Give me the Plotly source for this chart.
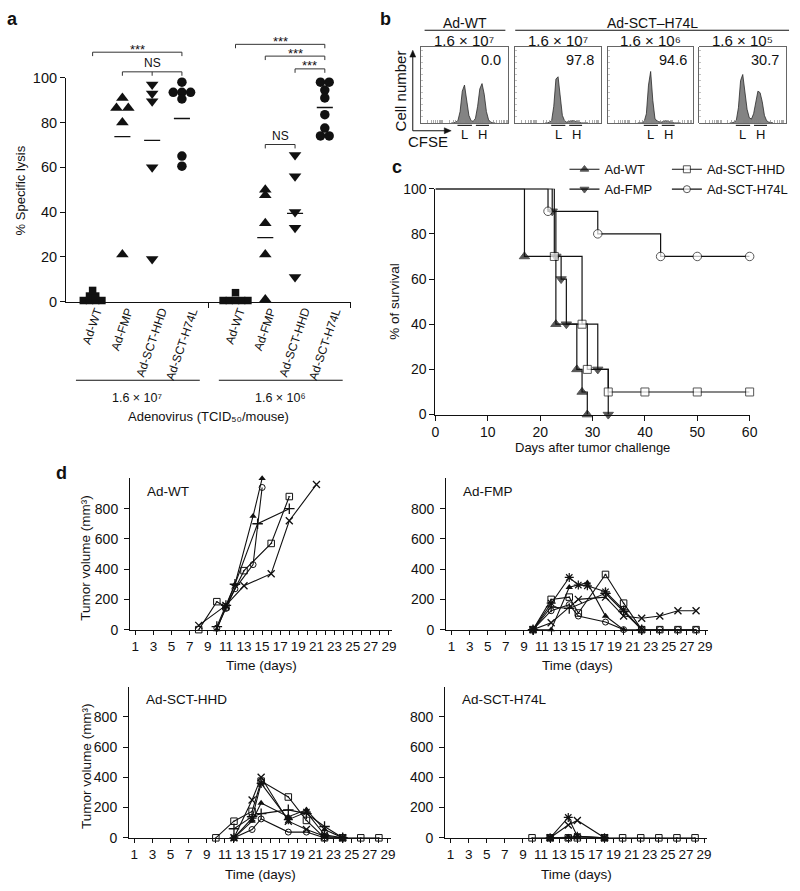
import math
import plotly.graph_objects as go

W, H = 800, 891
FONT = "Liberation Sans, Arial, Helvetica, sans-serif"
INK = "#111111"

# ======================= DATA =======================
# ---- Panel a : % specific lysis ----
virus_names = ["Ad-WT", "Ad-FMP", "Ad-SCT-HHD", "Ad-SCT-H74L"]
dose_labels_a = ["1.6 × 10⁷", "1.6 × 10⁶"]
lysis_ticks = [0, 20, 40, 60, 80, 100]
lysis_hi_wt = [0.5, 0.5, 0.5, 0.5, 2.5, 2.5, 5.0]
lysis_hi_fmp = [91.0, 86.5, 86.5, 80.0, 21.0]
lysis_hi_hhd = [97.0, 93.0, 89.5, 60.0, 19.0]
lysis_hi_h74l = [98.0, 93.5, 93.5, 93.5, 90.5, 65.0, 60.5]
lysis_lo_wt = [0.5, 0.5, 0.5, 0.5, 0.5, 4.0]
lysis_lo_fmp = [50.0, 47.5, 35.0, 21.0, 1.0]
lysis_lo_hhd = [65.5, 56.0, 40.0, 33.0, 11.0]
lysis_lo_h74l = [98.0, 98.0, 94.5, 91.0, 83.5, 77.5, 74.0, 74.0]
lysis_hi_means = [None, 73.7, 72.0, 81.8]
lysis_lo_means = [None, 28.6, 39.4, 86.7]
sig_hi = [("***", [0, 3]), ("NS", [1, 2, 3])]
sig_lo = [("***", [0, 3]), ("***", [1, 3]), ("***", [2, 3]), ("NS", [1, 2])]

# ---- Panel b : CFSE histograms ----
flow_headers = ["Ad-WT", "Ad-SCT–H74L"]
flow_doses = ["1.6 × 10⁷", "1.6 × 10⁷", "1.6 × 10⁶", "1.6 × 10⁵"]
flow_lysis = ["0.0", "97.8", "94.6", "30.7"]
cfse_channel = [35, 37.5, 40, 42.5, 45, 47.5, 50, 52.5, 55, 57.5, 60,
                62.5, 65, 67.5, 70, 72.5, 75, 77.5, 80, 82.5, 85]
hist_wt_e7 = [0, 0, 1, 3, 15, 42, 50, 30, 10, 3, 2, 6, 22, 45, 52, 38, 15, 4, 1, 0, 0]
hist_h74l_e7 = [0, 0, 1, 3, 22, 58, 61, 35, 10, 3, 1, 2, 3, 3, 2, 1, 1, 0, 0, 0, 0]
hist_h74l_e6 = [0, 0, 0, 2, 12, 50, 68, 30, 6, 2, 1, 1, 2, 3, 2, 1, 0, 0, 0, 0, 0]
hist_h74l_e5 = [0, 0, 1, 3, 20, 56, 64, 40, 18, 7, 5, 12, 30, 42, 40, 28, 10, 3, 1, 0, 0]

# ---- Panel c : survival ----
km_names = ["Ad-WT", "Ad-FMP", "Ad-SCT-HHD", "Ad-SCT-H74L"]
km_wt_t = [0, 17, 23, 27, 28, 29]
km_wt_s = [100, 70, 40, 20, 10, 0]
km_fmp_t = [0, 22.3, 23, 24, 25, 31, 33]
km_fmp_s = [100, 90, 70, 60, 40, 20, 0]
km_hhd_t = [0, 22.7, 28, 29, 33, 40, 50, 60]
km_hhd_s = [100, 70, 40, 20, 10, 10, 10, 10]
km_h74l_t = [0, 21.5, 31, 43, 50, 60]
km_h74l_s = [100, 90, 80, 70, 70, 70]
km_xticks = [0, 10, 20, 30, 40, 50, 60]
km_yticks = [0, 20, 40, 60, 80, 100]

# ---- Panel d : tumour volume ----
tumor_titles = ["Ad-WT", "Ad-FMP", "Ad-SCT-HHD", "Ad-SCT-H74L"]
vol_ticks = [0, 200, 400, 600, 800]
day_labels = [1, 3, 5, 7, 9, 11, 13, 15, 17, 19, 21, 23, 25, 27, 29]
day_minor = [10, 12, 14, 16, 18, 20, 22, 24, 26, 28]

wt_tri_d = [10, 11, 12, 14, 15];          wt_tri_v = [0, 150, 300, 750, 1000]
wt_cir_d = [10, 11, 12, 14, 15];          wt_cir_v = [10, 140, 270, 430, 940]
wt_sq_d = [8, 10, 11, 13, 16, 18];        wt_sq_v = [0, 185, 150, 390, 570, 880]
wt_x_d = [8, 11, 13, 16, 18, 21];         wt_x_v = [28, 160, 290, 370, 720, 960]
wt_plus_d = [10, 11, 12, 14.5, 18];       wt_plus_v = [20, 160, 300, 700, 800]

fmp_tri_d = [10, 12, 14, 16, 18, 20];     fmp_tri_v = [0, 0, 280, 310, 90, 0]
fmp_cir_d = [10, 12, 14, 15, 18, 20, 22, 24, 26, 28]
fmp_cir_v = [0, 125, 165, 90, 50, 0, 0, 0, 0, 0]
fmp_sq_d = [10, 12, 14, 15, 18, 20, 22, 24, 26, 28]
fmp_sq_v = [0, 200, 215, 110, 365, 175, 0, 0, 0, 0]
fmp_x_d = [10, 12, 15, 18, 20, 22, 24, 26, 28]
fmp_x_v = [0, 45, 200, 215, 90, 75, 90, 125, 125]
fmp_star_d = [10, 12, 14, 15, 16, 18, 20, 22]
fmp_star_v = [0, 175, 345, 295, 290, 250, 130, 0]
fmp_plus_d = [10, 12, 14, 18, 20, 22]
fmp_plus_v = [0, 150, 140, 240, 120, 0]

hhd_sq_d = [10, 12, 14, 15, 18, 20, 22, 24, 26, 28]
hhd_sq_v = [0, 110, 175, 375, 270, 115, 0, 0, 0, 0]
hhd_x_d = [12, 14, 15, 18, 20, 22, 24];   hhd_x_v = [0, 250, 400, 110, 55, 10, 0]
hhd_cir_d = [12, 14, 15, 18, 20, 22, 24]; hhd_cir_v = [0, 55, 125, 38, 38, 0, 0]
hhd_tri_d = [12, 14, 15, 18, 20, 22, 24]; hhd_tri_v = [0, 110, 230, 140, 185, 55, 0]
hhd_plus_d = [12, 14, 15, 18, 20, 22, 24]; hhd_plus_v = [60, 140, 160, 185, 160, 75, 0]
hhd_star_d = [12, 14, 15, 18, 20, 22, 24]; hhd_star_v = [0, 130, 360, 120, 170, 20, 0]

h74l_sq_d = [10, 12, 14, 15, 18, 20, 22, 24, 26, 28]
h74l_sq_v = [0, 0, 0, 0, 0, 0, 0, 0, 0, 0]
h74l_star_d = [12, 14, 15, 18];           h74l_star_v = [0, 135, 10, 0]
h74l_x_d = [12, 14, 15, 18];              h74l_x_v = [0, 85, 115, 0]
h74l_tri_d = [12, 14, 15, 18];            h74l_tri_v = [0, 5, 5, 0]
h74l_cir_d = [12, 14, 15, 18];            h74l_cir_v = [0, 0, 10, 0]

# ======================= HELPERS =======================
fig = go.Figure()
anns, shapes, axes = [], [], {}


def fx(px):
    return px / W


def fy(py):
    return 1 - py / H


def xdom(a, b):
    return [a / W, b / W]


def ydom(top, bottom):
    return [1 - bottom / H, 1 - top / H]


def text(x, y, s, size=13, bold=False, **kw):
    a = dict(xref="paper", yref="paper", x=fx(x), y=fy(y), text=("<b>%s</b>" % s if bold else s),
             showarrow=False, xanchor="center", yanchor="middle",
             font=dict(size=size, color=INK, family=FONT))
    a.update(kw)
    anns.append(a)


def seg(x0, y0, x1, y1, width=1.0, color=INK):
    shapes.append(dict(type="line", xref="paper", yref="paper", x0=fx(x0), y0=fy(y0),
                       x1=fx(x1), y1=fy(y1), line=dict(color=color, width=width)))


def tri(pts):
    p = "M" + " L".join("%.5f,%.5f" % (fx(a), fy(b)) for a, b in pts) + " Z"
    shapes.append(dict(type="path", xref="paper", yref="paper", path=p,
                       fillcolor=INK, line=dict(color=INK, width=0.5)))


def base_axis(**kw):
    d = dict(showgrid=False, zeroline=False, fixedrange=True, showline=True,
             linecolor=INK, linewidth=1.1, tickcolor=INK,
             tickfont=dict(size=14, color=INK, family=FONT))
    d.update(kw)
    return d


# ======================= PANEL a =======================
A_X = (63, 352)
A_R = (0.108, 9.67)
A_Y = (71, 299)
A_UNIT = (A_X[1] - A_X[0]) / (A_R[1] - A_R[0])
group_start = [1.0, 5.8]


def a_px(u):
    return A_X[0] + (u - A_R[0]) * A_UNIT


def swarm(vals, center, step_px):
    counts, seen, xs = {}, {}, []
    for v in vals:
        counts[v] = counts.get(v, 0) + 1
    for v in vals:
        n = counts[v]
        i = seen.get(v, 0)
        seen[v] = i + 1
        xs.append(center + (i - (n - 1) / 2.0) * step_px / A_UNIT)
    return xs


a_symbols = ["square", "triangle-up", "triangle-down", "circle"]
a_sizes = [7.5, 11, 11, 9.5]
a_steps = [6.3, 12, 12, 8.8]
groups = [([lysis_hi_wt, lysis_hi_fmp, lysis_hi_hhd, lysis_hi_h74l], lysis_hi_means),
          ([lysis_lo_wt, lysis_lo_fmp, lysis_lo_hhd, lysis_lo_h74l], lysis_lo_means)]
for g, (series, means) in enumerate(groups):
    for i, vals in enumerate(series):
        cx = group_start[g] + i
        fig.add_trace(go.Scatter(
            x=swarm(vals, cx, a_steps[i]), y=vals, mode="markers", xaxis="x", yaxis="y",
            marker=dict(symbol=a_symbols[i], size=a_sizes[i], color=INK, line=dict(width=0)),
            cliponaxis=False, showlegend=False, hoverinfo="skip"))
        if means[i] is not None:
            fig.add_trace(go.Scatter(
                x=[cx - 0.27, cx + 0.27], y=[means[i], means[i]], mode="lines",
                xaxis="x", yaxis="y", line=dict(color=INK, width=1.4),
                cliponaxis=False, showlegend=False, hoverinfo="skip"))

axes["xaxis"] = base_axis(domain=xdom(*A_X), range=list(A_R), anchor="y", ticks="outside",
                          ticklen=5, tickvals=[4.9, 9.66], showticklabels=False)
axes["yaxis"] = base_axis(domain=ydom(*A_Y), range=[0, 100], anchor="x", ticks="outside",
                          ticklen=5, tickvals=lysis_ticks, tickfont=dict(size=14.5, color=INK, family=FONT))

# significance brackets
bracket_levels = [[45, 65], [37, 49, 62, 139]]
for g, sigs in enumerate([sig_hi, sig_lo]):
    for (label, cats), ypx in zip(sigs, bracket_levels[g]):
        xs = [a_px(group_start[g] + c) for c in cats]
        seg(xs[0], ypx, xs[-1], ypx, width=1, color="#333")
        for xx in xs:
            seg(xx, ypx, xx, ypx + 4, width=1, color="#333")
        mid = (xs[0] + xs[-1]) / 2
        if label == "NS":
            text(mid, ypx - 9, label, size=12)
        else:
            text(mid, ypx - 3, label, size=13)

# category labels, group lines, dose labels
for g in range(2):
    for i, name in enumerate(virus_names):
        anns.append(dict(xref="paper", yref="paper", x=fx(a_px(group_start[g] + i)), y=fy(301),
                         text=name, textangle=-71, showarrow=False, xanchor="center", yanchor="top",
                         font=dict(size=12, color=INK, family=FONT)))
    gx0 = a_px(group_start[g] - 0.56)
    gx1 = a_px(group_start[g] + 3.6)
    seg(gx0, 379, gx1, 379, width=1.1)
    text((gx0 + gx1) / 2, 397, dose_labels_a[g], size=12.5)
text(208, 416, "Adenovirus (TCID₅₀/mouse)", size=13)
text(17, 186, "% Specific lysis", size=13, textangle=-90)

# ======================= PANEL b =======================
B_BOXES = [(423, 512), (519, 606), (613, 700), (706, 794)]
B_Y = (40, 117)
hists = [hist_wt_e7, hist_h74l_e7, hist_h74l_e6, hist_h74l_e5]
log_ticks = [25 * (d + math.log10(k)) for d in range(4) for k in range(1, 10)]
for k, (bx0, bx1) in enumerate(B_BOXES):
    n = k + 2
    xa, ya = "x%d" % n, "y%d" % n
    fig.add_trace(go.Scatter(x=cfse_channel, y=hists[k], mode="lines", fill="tozeroy",
                             fillcolor="#838383", line=dict(color="#2a2a2a", width=0.8),
                             xaxis=xa, yaxis=ya, showlegend=False, hoverinfo="skip"))
    axes["xaxis%d" % n] = base_axis(domain=xdom(bx0, bx1), range=[0, 100], anchor=ya, mirror=True,
                                    linecolor="#555", linewidth=0.9, ticks="inside", ticklen=2.5,
                                    tickcolor="#888", tickwidth=0.7, tickvals=log_ticks,
                                    showticklabels=False)
    axes["yaxis%d" % n] = base_axis(domain=ydom(*B_Y), range=[0, 100], anchor=xa, mirror=True,
                                    linecolor="#555", linewidth=0.9, ticks="inside", ticklen=2,
                                    tickcolor="#999", tickwidth=0.6, dtick=8, showticklabels=False)
    w = bx1 - bx0
    text((bx0 + bx1) / 2, 33, flow_doses[k], size=15)
    text(bx1 - 5, 53, flow_lysis[k], size=14.5, xanchor="right")
    seg(bx0 + 0.42 * w, 119.5, bx0 + 0.585 * w, 119.5, width=1.1)
    seg(bx0 + 0.63 * w, 119.5, bx0 + 0.78 * w, 119.5, width=1.1)
    text(bx0 + 0.50 * w, 129, "L", size=13)
    text(bx0 + 0.71 * w, 129, "H", size=13)

text(468, 15, flow_headers[0], size=14)
seg(427, 22.7, 509, 22.7, width=1.1)
text(658, 15, flow_headers[1], size=14)
seg(519, 22.7, 797, 22.7, width=1.1)
text(403, 84, "Cell number", size=15, textangle=-90)
text(430, 136, "CFSE", size=15)
# CFSE / cell-number arrows
seg(415, 125, 415, 49, width=1)
tri([(412, 50), (418, 50), (415, 43)])
seg(415, 125, 448, 125, width=1)
tri([(447, 122), (447, 128), (454, 125)])

# ======================= PANEL c =======================
km_series = [(km_wt_t, km_wt_s, "triangle-up", INK, 9, "legend"),
             (km_fmp_t, km_fmp_s, "triangle-down", INK, 9, "legend"),
             (km_hhd_t, km_hhd_s, "square", "white", 8, "legend2"),
             (km_h74l_t, km_h74l_s, "circle", "white", 8.5, "legend2")]
for name, (t, s, sym, col, sz, lg) in zip(km_names, km_series):
    fig.add_trace(go.Scatter(
        x=t, y=s, mode="lines+markers", line=dict(shape="hv", color=INK, width=1.2),
        marker=dict(symbol=sym, color=col, size=[0] + [sz] * (len(t) - 1),
                    line=dict(color=INK, width=1)),
        name=name, legend=lg, xaxis="x6", yaxis="y6", cliponaxis=False, hoverinfo="skip"))
axes["xaxis6"] = base_axis(domain=xdom(438, 757), range=[0, 60], anchor="y6", ticks="outside",
                           ticklen=5, tickvals=km_xticks)
axes["yaxis6"] = base_axis(domain=ydom(184, 414), range=[0, 100], anchor="x6", ticks="outside",
                           ticklen=5, tickvals=km_yticks)
text(597, 448, "Days after tumor challenge", size=13)
text(397, 299, "% of survival", size=13.5, textangle=-90)

legend_common = dict(xanchor="left", yanchor="top", bgcolor="rgba(0,0,0,0)", itemwidth=30,
                     tracegroupgap=0, font=dict(size=13, color=INK, family=FONT),
                     itemclick=False, itemdoubleclick=False)

# ======================= PANEL d =======================
D_PANELS = [((128, 394), (479, 633)), ((449, 715), (479, 633)),
            ((127, 393), (691, 845)), ((448, 714), (691, 845))]
mouse_style = {
    "tri": dict(symbol="triangle-up", size=6.5, color=INK, line=dict(width=0)),
    "cir": dict(symbol="circle-open", size=6, color=INK, line=dict(width=1)),
    "sq": dict(symbol="square-open-dot", size=6.5, color=INK, line=dict(width=1)),
    "x": dict(symbol="x-thin-open", size=7, color=INK, line=dict(width=1.3)),
    "plus": dict(symbol="cross-thin-open", size=7.5, color=INK, line=dict(width=1.3)),
    "star": dict(symbol="asterisk-open", size=7.5, color=INK, line=dict(width=1.2)),
}
tumor_series = [
    [("tri", wt_tri_d, wt_tri_v), ("cir", wt_cir_d, wt_cir_v), ("sq", wt_sq_d, wt_sq_v),
     ("x", wt_x_d, wt_x_v), ("plus", wt_plus_d, wt_plus_v)],
    [("tri", fmp_tri_d, fmp_tri_v), ("cir", fmp_cir_d, fmp_cir_v), ("sq", fmp_sq_d, fmp_sq_v),
     ("x", fmp_x_d, fmp_x_v), ("star", fmp_star_d, fmp_star_v), ("plus", fmp_plus_d, fmp_plus_v)],
    [("tri", hhd_tri_d, hhd_tri_v), ("cir", hhd_cir_d, hhd_cir_v), ("sq", hhd_sq_d, hhd_sq_v),
     ("x", hhd_x_d, hhd_x_v), ("plus", hhd_plus_d, hhd_plus_v), ("star", hhd_star_d, hhd_star_v)],
    [("tri", h74l_tri_d, h74l_tri_v), ("cir", h74l_cir_d, h74l_cir_v), ("sq", h74l_sq_d, h74l_sq_v),
     ("x", h74l_x_d, h74l_x_v), ("star", h74l_star_d, h74l_star_v)],
]
for p, ((px0, px1), (py0, py1)) in enumerate(D_PANELS):
    n = p + 7
    xa, ya = "x%d" % n, "y%d" % n
    for key, d, v in tumor_series[p]:
        fig.add_trace(go.Scatter(x=d, y=v, mode="lines+markers", xaxis=xa, yaxis=ya,
                                 line=dict(color=INK, width=1.1), marker=mouse_style[key],
                                 cliponaxis=False, showlegend=False, hoverinfo="skip"))
    axes["xaxis%d" % n] = base_axis(domain=xdom(px0, px1), range=[0.42, 29.35], anchor=ya,
                                    ticks="outside", ticklen=4, tickvals=day_labels, tickangle=0,
                                    tickfont=dict(size=13.5, color=INK, family=FONT),
                                    minor=dict(tickmode="array", tickvals=day_minor, ticks="outside",
                                               ticklen=4, tickcolor=INK))
    axes["yaxis%d" % n] = base_axis(domain=ydom(py0, py1), range=[0, 1000], anchor=xa,
                                    ticks="outside", ticklen=5, tickvals=vol_ticks,
                                    tickfont=dict(size=14, color=INK, family=FONT),
                                    ticklabelstandoff=3)
    text(px0 + 15, py0 + 13, tumor_titles[p], size=13.5, xanchor="left")
    text((px0 + px1) / 2, py1 + 37, "Time (days)", size=13.5)
    if p % 2 == 0:
        text(83, (py0 + py1) / 2 + 4, "Tumor volume (mm³)", size=13.5, textangle=-90)

# panel letters
text(9, 11, "a", size=18, bold=True)
text(387, 11, "b", size=18, bold=True)
text(399, 162, "c", size=18, bold=True)
text(58, 474, "d", size=18, bold=True)

fig.update_layout(
    width=W, height=H, margin=dict(l=0, r=0, t=0, b=0),
    paper_bgcolor="white", plot_bgcolor="white",
    font=dict(family=FONT, color=INK),
    showlegend=True,
    legend=dict(x=fx(569), y=fy(149), **legend_common),
    legend2=dict(x=fx(673), y=fy(149), **legend_common),
    annotations=anns, shapes=shapes, **axes)

fig.write_html(
    "out.html",
    config={"displayModeBar": False, "staticPlot": True},
    post_script="document.body.style.margin='0px';document.body.style.padding='0px';"
                "document.documentElement.style.overflow='hidden';")
